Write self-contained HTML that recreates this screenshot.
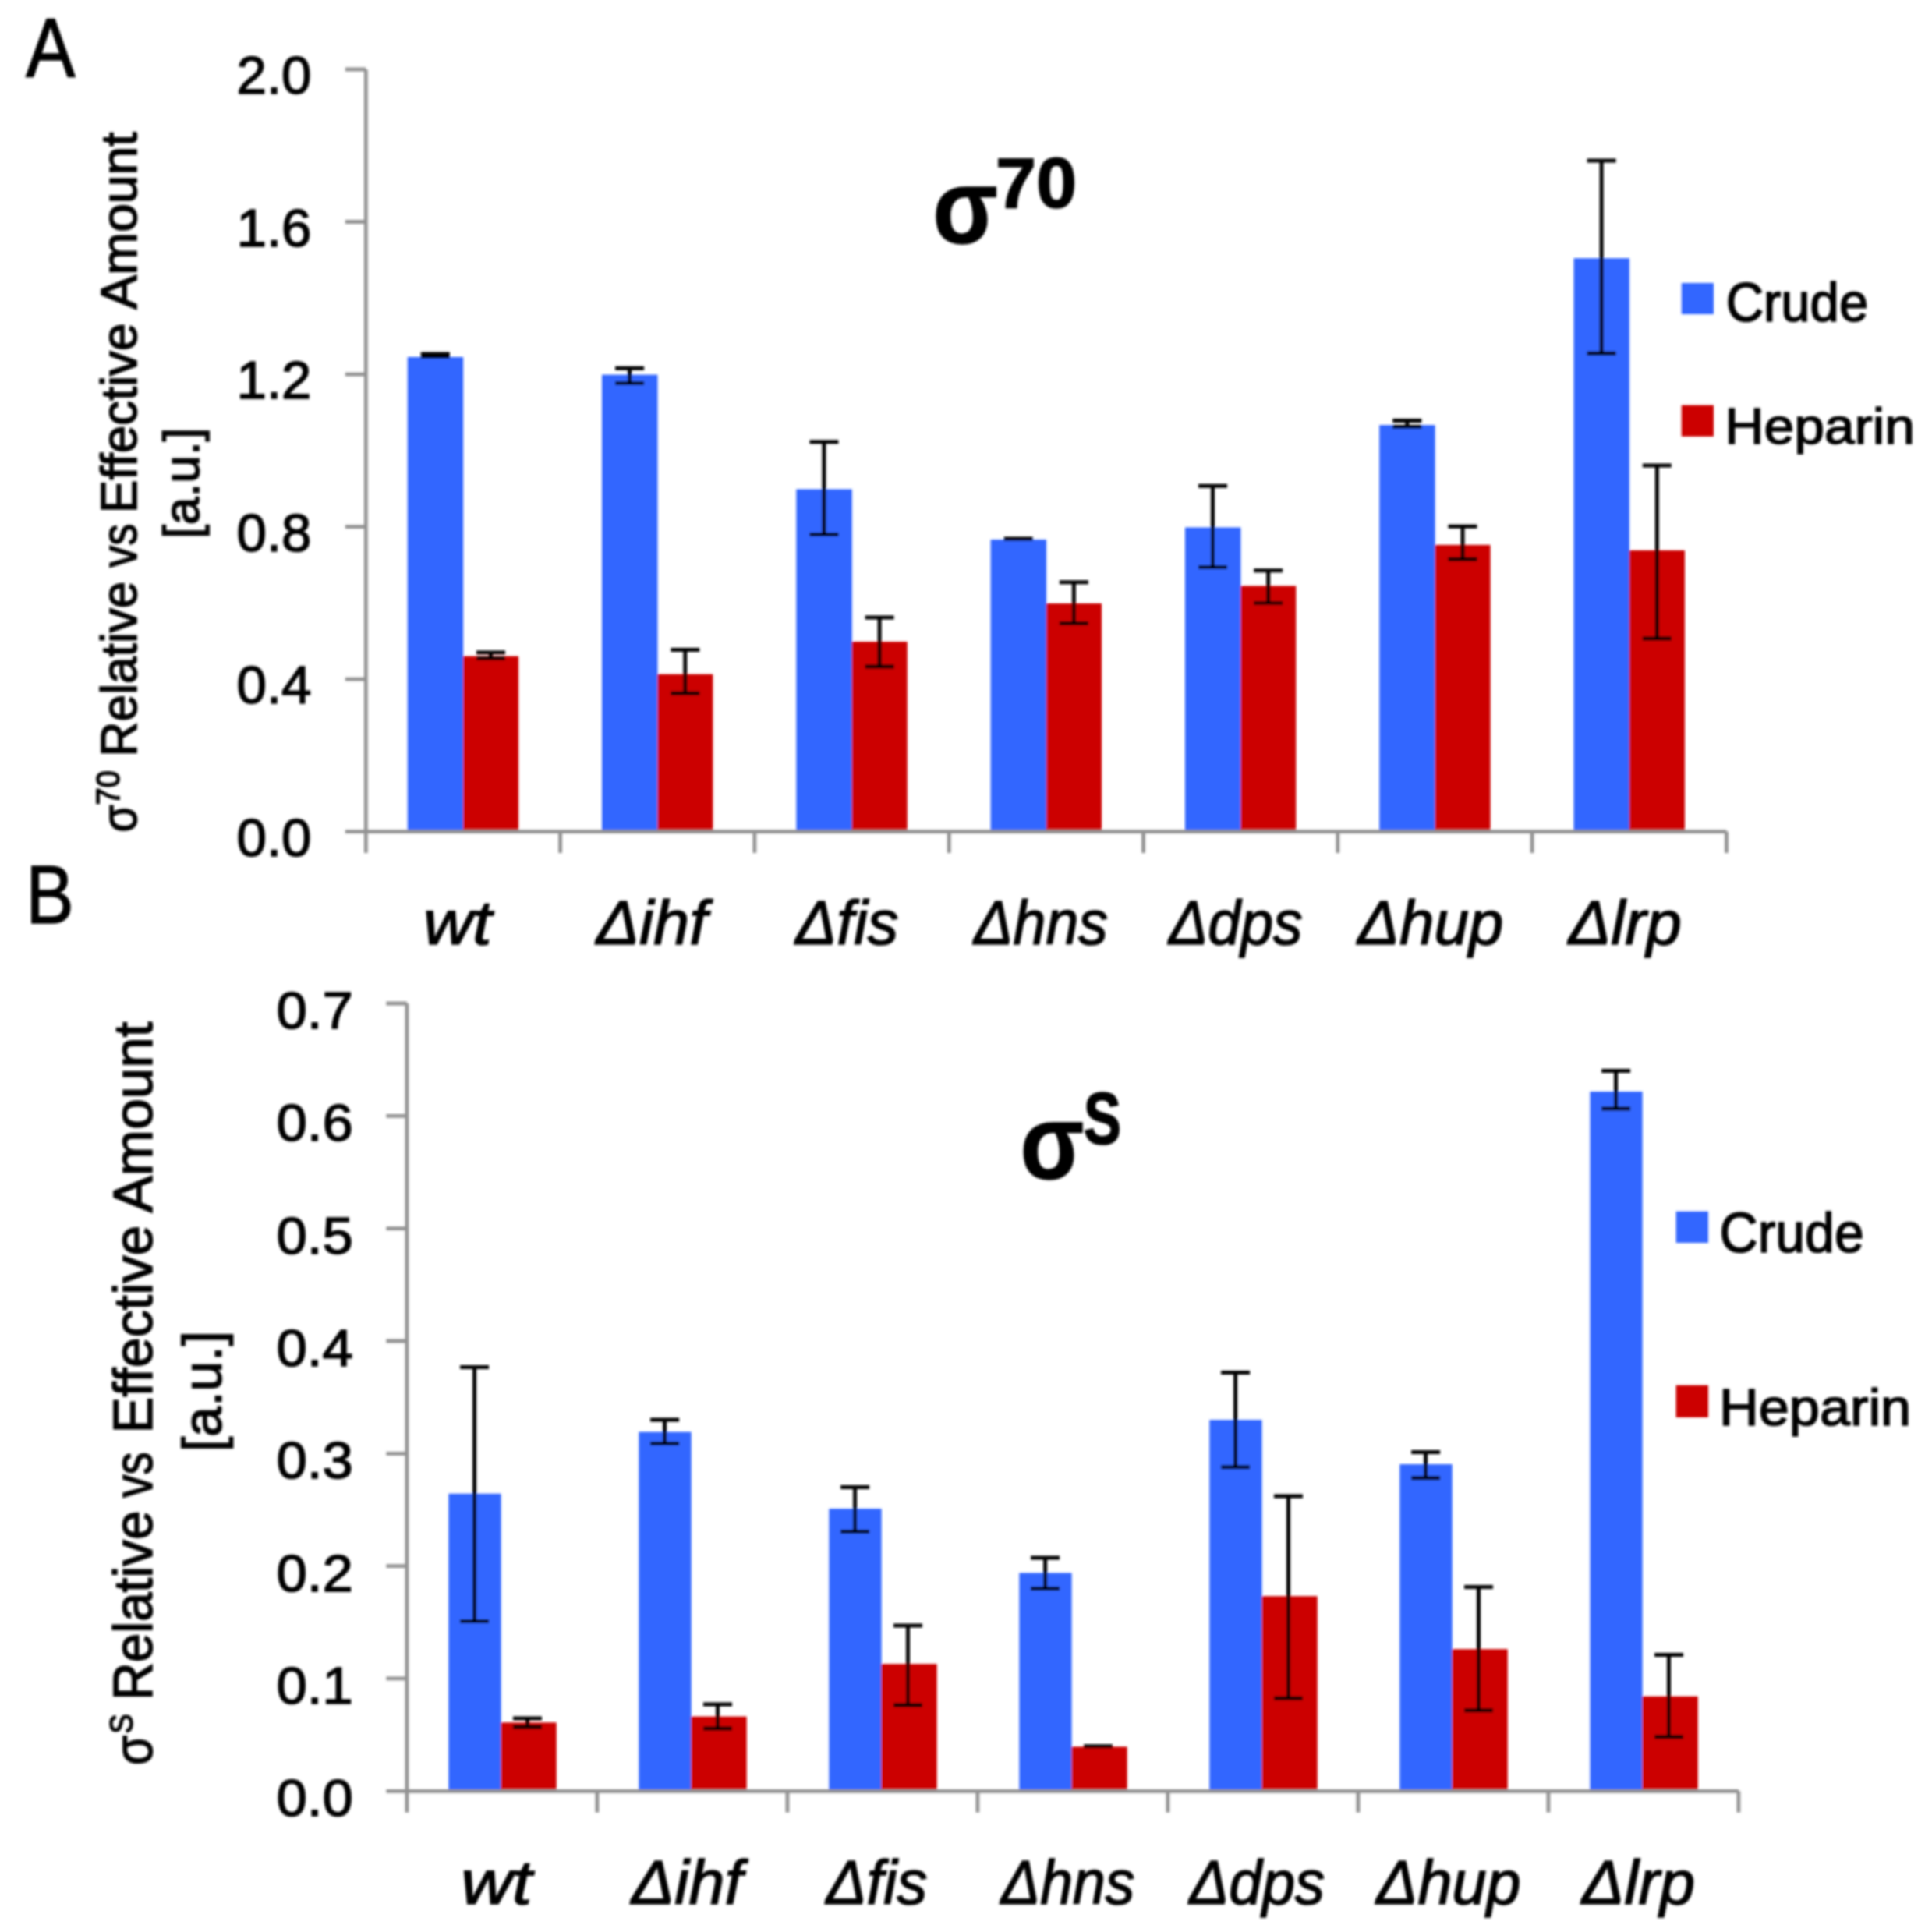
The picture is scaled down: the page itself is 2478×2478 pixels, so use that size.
<!DOCTYPE html>
<html lang="en"><head><meta charset="utf-8"><title>Figure</title>
<style>html,body{margin:0;padding:0;background:#fff}svg{display:block}</style></head>
<body>
<svg width="2478" height="2478" viewBox="0 0 2478 2478" font-family='"Liberation Sans", sans-serif' fill="#000">
<defs><filter id="bl" x="0" y="0" width="2478" height="2478" filterUnits="userSpaceOnUse"><feGaussianBlur stdDeviation="1.6"/></filter></defs>
<rect width="2478" height="2478" fill="#fff"/>
<g filter="url(#bl)">
<rect x="522.7" y="457.9" width="71.5" height="608.7" fill="#3366FF"/>
<rect x="593.9" y="841.7" width="71.2" height="224.9" fill="#CC0000"/>
<rect x="772" y="480.6" width="71.5" height="586" fill="#3366FF"/>
<rect x="843.2" y="864.7" width="71.2" height="201.9" fill="#CC0000"/>
<rect x="1021.3" y="627.5" width="71.5" height="439.1" fill="#3366FF"/>
<rect x="1092.5" y="823.1" width="71.2" height="243.5" fill="#CC0000"/>
<rect x="1270.6" y="692" width="71.5" height="374.6" fill="#3366FF"/>
<rect x="1341.8" y="774" width="71.2" height="292.6" fill="#CC0000"/>
<rect x="1519.9" y="676.5" width="71.5" height="390.1" fill="#3366FF"/>
<rect x="1591.1" y="751.4" width="71.2" height="315.2" fill="#CC0000"/>
<rect x="1769.2" y="545.2" width="71.5" height="521.4" fill="#3366FF"/>
<rect x="1840.4" y="698.9" width="71.2" height="367.7" fill="#CC0000"/>
<rect x="2018.5" y="331.2" width="71.5" height="735.4" fill="#3366FF"/>
<rect x="2089.7" y="705.9" width="71.2" height="360.7" fill="#CC0000"/>
<path d="M469.3 89V1094.1M442.8 1066.6H2214.4M718.6 1066.6v27.5M967.9 1066.6v27.5M1217.2 1066.6v27.5M1466.5 1066.6v27.5M1715.8 1066.6v27.5M1965.1 1066.6v27.5M2214.4 1066.6v27.5M442.8 89H469.3M442.8 284.52H469.3M442.8 480.04H469.3M442.8 675.56H469.3M442.8 871.08H469.3" fill="none" stroke="#929292" stroke-width="4.8" stroke-linejoin="round"/>
<path d="M539.8 454h37M539.8 457.5h37M558.3 454V457.5M611 837h37M611 844.5h37M629.5 837V844.5M789.1 472.2h37M789.1 491.4h37M807.6 472.2V491.4M860.3 833.4h37M860.3 889.3h37M878.8 833.4V889.3M1038.4 566.8h37M1038.4 685.5h37M1056.9 566.8V685.5M1109.6 792h37M1109.6 855.1h37M1128.1 792V855.1M1287.7 691h37M1358.9 746.7h37M1358.9 799.5h37M1377.4 746.7V799.5M1537 623.2h37M1537 727.5h37M1555.5 623.2V727.5M1608.2 731.8h37M1608.2 773.4h37M1626.7 731.8V773.4M1786.3 539.6h37M1786.3 547.6h37M1804.8 539.6V547.6M1857.5 675.3h37M1857.5 717.2h37M1876 675.3V717.2M2035.6 206.1h37M2035.6 453.3h37M2054.1 206.1V453.3M2106.8 597h37M2106.8 819h37M2125.3 597V819" fill="none" stroke="#000" stroke-width="5.0"/>
<g font-size="69" text-anchor="end" stroke="#000" stroke-width="1.6">
<text transform="matrix(1.0000 0 0 1.0000 399.50 120.30)">2.0</text>
<text transform="matrix(1.0000 0 0 1.0000 399.50 315.82)">1.6</text>
<text transform="matrix(1.0000 0 0 1.0000 399.50 511.34)">1.2</text>
<text transform="matrix(1.0000 0 0 1.0000 399.50 706.86)">0.8</text>
<text transform="matrix(1.0000 0 0 1.0000 399.50 902.38)">0.4</text>
<text transform="matrix(1.0000 0 0 1.0000 399.50 1097.90)">0.0</text>
</g>
<rect x="575.3" y="1915.8" width="67.3" height="381.5" fill="#3366FF"/>
<rect x="642.3" y="2209.3" width="71.4" height="88" fill="#CC0000"/>
<rect x="819.3" y="1836.6" width="67.3" height="460.7" fill="#3366FF"/>
<rect x="886.3" y="2201.6" width="71.4" height="95.7" fill="#CC0000"/>
<rect x="1063.3" y="1935.1" width="67.3" height="362.2" fill="#3366FF"/>
<rect x="1130.3" y="2134.2" width="71.4" height="163.1" fill="#CC0000"/>
<rect x="1307.3" y="2017.4" width="67.3" height="279.9" fill="#3366FF"/>
<rect x="1374.3" y="2240.4" width="71.4" height="56.9" fill="#CC0000"/>
<rect x="1551.3" y="1821.1" width="67.3" height="476.2" fill="#3366FF"/>
<rect x="1618.3" y="2047.2" width="71.4" height="250.1" fill="#CC0000"/>
<rect x="1795.3" y="1878" width="67.3" height="419.3" fill="#3366FF"/>
<rect x="1862.3" y="2115.2" width="71.4" height="182.1" fill="#CC0000"/>
<rect x="2039.3" y="1400" width="67.3" height="897.3" fill="#3366FF"/>
<rect x="2106.3" y="2175.7" width="71.4" height="121.6" fill="#CC0000"/>
<path d="M521.9 1287V2324.8M495.4 2297.3H2229.9M765.9 2297.3v27.5M1009.9 2297.3v27.5M1253.9 2297.3v27.5M1497.9 2297.3v27.5M1741.9 2297.3v27.5M1985.9 2297.3v27.5M2229.9 2297.3v27.5M495.4 1287H521.9M495.4 1431.33H521.9M495.4 1575.66H521.9M495.4 1719.99H521.9M495.4 1864.31H521.9M495.4 2008.64H521.9M495.4 2152.97H521.9" fill="none" stroke="#929292" stroke-width="4.8" stroke-linejoin="round"/>
<path d="M590.1 1753.4h37M590.1 2079.5h37M608.6 1753.4V2079.5M658 2204h37M658 2215h37M676.5 2204V2215M834.1 1821.1h37M834.1 1851.6h37M852.6 1821.1V1851.6M902 2186h37M902 2217h37M920.5 2186V2217M1078.1 1907.5h37M1078.1 1964.6h37M1096.6 1907.5V1964.6M1146 2085.1h37M1146 2187h37M1164.5 2085.1V2187M1322.1 1998.1h37M1322.1 2037.6h37M1340.6 1998.1V2037.6M1390 2239.8h37M1566.1 1760.6h37M1566.1 1881.7h37M1584.6 1760.6V1881.7M1634 1918.9h37M1634 2178.3h37M1652.5 1918.9V2178.3M1810.1 1862.4h37M1810.1 1895.7h37M1828.6 1862.4V1895.7M1878 2035.4h37M1878 2193.8h37M1896.5 2035.4V2193.8M2054.1 1373.6h37M2054.1 1422h37M2072.6 1373.6V1422M2122 2122.6h37M2122 2227.7h37M2140.5 2122.6V2227.7" fill="none" stroke="#000" stroke-width="5.0"/>
<g font-size="69" text-anchor="end" stroke="#000" stroke-width="1.6">
<text transform="matrix(1.0250 0 0 0.9735 452.77 1319.03)">0.7</text>
<text transform="matrix(1.0250 0 0 0.9735 452.77 1463.36)">0.6</text>
<text transform="matrix(1.0250 0 0 0.9735 452.77 1607.68)">0.5</text>
<text transform="matrix(1.0250 0 0 0.9735 452.77 1752.01)">0.4</text>
<text transform="matrix(1.0250 0 0 0.9735 452.77 1896.34)">0.3</text>
<text transform="matrix(1.0250 0 0 0.9735 452.77 2040.67)">0.2</text>
<text transform="matrix(1.0250 0 0 0.9735 452.77 2185.00)">0.1</text>
<text transform="matrix(1.0250 0 0 0.9735 452.77 2329.33)">0.0</text>
</g>
<rect x="2156.7" y="363" width="41.3" height="40" fill="#3366FF"/><rect x="2156.7" y="519.6" width="41.3" height="40.2" fill="#CC0000"/>
<rect x="2149.7" y="1553.7" width="41.3" height="40.4" fill="#3366FF"/><rect x="2149.7" y="1776.7" width="41.3" height="41.3" fill="#CC0000"/>
<g stroke="#000" stroke-width="1.6">
<text transform="matrix(0.9271 0 0 1.0514 33.33 98.60)" font-size="102">A</text>
<text transform="matrix(0.9036 0 0 1.0292 33.17 1184.17)" font-size="102">B</text>
<text transform="matrix(0.8719 0 0 0.9675 1196.14 311.76)" font-size="140" font-weight="bold">σ</text>
<text transform="matrix(1.0415 0 0 1.0121 1276.98 265.88)" font-size="90" font-weight="bold">70</text>
<text transform="matrix(0.8551 0 0 0.9675 1308.62 1511.76)" font-size="140" font-weight="bold">σ</text>
<text transform="matrix(0.8055 0 0 1.0470 1389.69 1466.61)" font-size="90" font-weight="bold">S</text>
<text transform="matrix(1.0154 0 0 1.0640 2213.65 412.44)" font-size="66">Crude</text>
<text transform="matrix(1.0547 0 0 0.9703 2212.23 569.25)" font-size="66">Heparin</text>
<text transform="matrix(1.0297 0 0 1.0900 2205.61 1606.41)" font-size="66">Crude</text>
<text transform="matrix(1.0655 0 0 1.0094 2204.97 1827.76)" font-size="66">Heparin</text>
<text transform="rotate(-90) matrix(0.8789 0 0 1.0000 -1067.46 175.40)" font-size="65">σ</text>
<text transform="rotate(-90) matrix(0.9467 0 0 1.0000 -1032.45 153.00)" font-size="42">70</text>
<text transform="rotate(-90) matrix(0.9575 0 0 1.0000 -970.39 175.40)" font-size="65">Relative</text>
<text transform="rotate(-90) matrix(0.8609 0 0 1.0000 -727.84 175.40)" font-size="65">vs</text>
<text transform="rotate(-90) matrix(0.9826 0 0 1.0000 -658.21 175.40)" font-size="65">Effective</text>
<text transform="rotate(-90) matrix(1.0147 0 0 1.0000 -396.79 175.40)" font-size="65">Amount</text>
<text transform="rotate(-90) matrix(0.9876 0 0 1.0000 -690.95 255.20)" font-size="65">[a.u.]</text>
<text transform="rotate(-90) matrix(0.8829 0 0 1.0000 -2263.97 194.70)" font-size="70">σ</text>
<text transform="rotate(-90) matrix(0.8962 0 0 1.0000 -2223.50 169.50)" font-size="42">S</text>
<text transform="rotate(-90) matrix(0.9614 0 0 1.0000 -2180.81 194.70)" font-size="70">Relative</text>
<text transform="rotate(-90) matrix(0.8348 0 0 1.0000 -1920.67 194.70)" font-size="70">vs</text>
<text transform="rotate(-90) matrix(0.9992 0 0 1.0000 -1838.50 194.70)" font-size="70">Effective</text>
<text transform="rotate(-90) matrix(1.0165 0 0 1.0000 -1555.58 194.70)" font-size="70">Amount</text>
<text transform="rotate(-90) matrix(0.9966 0 0 1.0000 -1862.09 283.70)" font-size="70">[a.u.]</text>
<text transform="matrix(1.0962 0 0 1.0000 542.91 1210.50)" font-size="80" font-style="italic">wt</text>
<text transform="matrix(1.0311 0 0 1.0000 764.66 1210.50)" font-size="80" font-style="italic">Δihf</text>
<text transform="matrix(0.9881 0 0 1.0000 1020.18 1210.50)" font-size="80" font-style="italic">Δfis</text>
<text transform="matrix(0.9408 0 0 1.0000 1249.08 1210.50)" font-size="80" font-style="italic">Δhns</text>
<text transform="matrix(0.9408 0 0 1.0000 1498.88 1210.50)" font-size="80" font-style="italic">Δdps</text>
<text transform="matrix(0.9995 0 0 1.0000 1741.30 1210.50)" font-size="80" font-style="italic">Δhup</text>
<text transform="matrix(1.0182 0 0 1.0000 2011.64 1210.50)" font-size="80" font-style="italic">Δlrp</text>
<text transform="matrix(1.1412 0 0 1.0000 591.18 2441.50)" font-size="80" font-style="italic">wt</text>
<text transform="matrix(1.0318 0 0 1.0000 809.86 2441.50)" font-size="80" font-style="italic">Δihf</text>
<text transform="matrix(0.9704 0 0 1.0000 1059.54 2441.50)" font-size="80" font-style="italic">Δfis</text>
<text transform="matrix(0.9386 0 0 1.0000 1283.78 2441.50)" font-size="80" font-style="italic">Δhns</text>
<text transform="matrix(0.9516 0 0 1.0000 1525.30 2441.50)" font-size="80" font-style="italic">Δdps</text>
<text transform="matrix(0.9909 0 0 1.0000 1765.28 2441.50)" font-size="80" font-style="italic">Δhup</text>
<text transform="matrix(1.0182 0 0 1.0000 2028.84 2441.50)" font-size="80" font-style="italic">Δlrp</text>
</g>
</g>
</svg>
</body></html>
